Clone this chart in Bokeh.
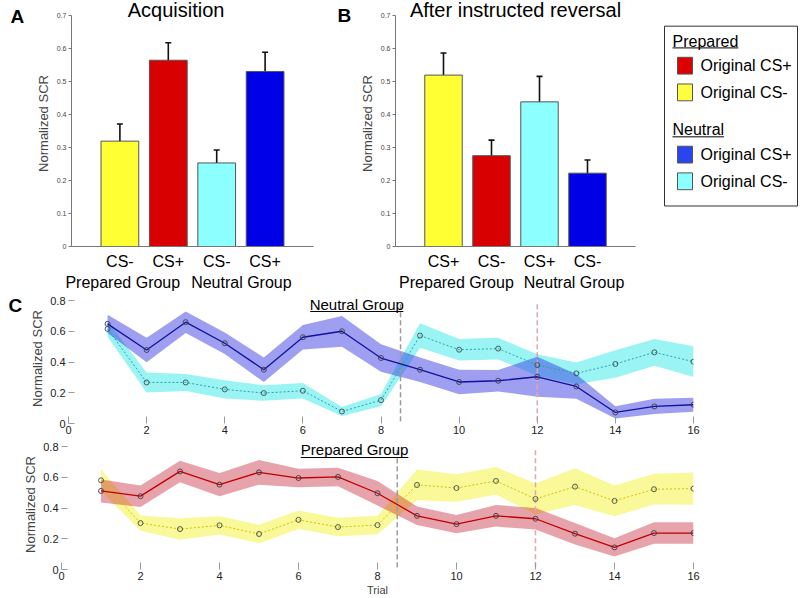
import numpy as np
from bokeh.plotting import figure
from bokeh.models import (Range1d, ColumnDataSource, Whisker, Label, LinearAxis,
                          FixedTicker, TeeHead)
from bokeh.layouts import column, row
from bokeh.embed import file_html
from bokeh.resources import INLINE
from bokeh.core.properties import value

FONT = "Liberation Sans"

# ---------------- data ----------------
bar_groups = ["Prepared Group", "Neutral Group"]

acq_stim = ["CS-", "CS+", "CS-", "CS+"]
acq_mean = [0.319, 0.564, 0.253, 0.530]
acq_lower = [0.270, 0.511, 0.214, 0.474]
acq_upper = [0.371, 0.617, 0.292, 0.588]
acq_colors = ["#ffff33", "#d80000", "#8cffff", "#0000e6"]

rev_stim = ["CS+", "CS-", "CS+", "CS-"]
rev_mean = [0.519, 0.275, 0.438, 0.222]
rev_lower = [0.456, 0.227, 0.361, 0.179]
rev_upper = [0.586, 0.322, 0.515, 0.262]
rev_colors = ["#ffff33", "#d80000", "#8cffff", "#0000e6"]

trials = list(range(1, 17))
neutral_csp_mean = [0.648, 0.478, 0.659, 0.522, 0.350, 0.561, 0.600, 0.426,
                    0.350, 0.270, 0.278, 0.304, 0.241, 0.072, 0.111, 0.122]
neutral_csp_sem = [0.06, 0.08, 0.07, 0.07, 0.08, 0.08, 0.10, 0.09,
                   0.08, 0.08, 0.07, 0.13, 0.08, 0.04, 0.05, 0.045]
neutral_csm_mean = [0.615, 0.267, 0.267, 0.222, 0.198, 0.213, 0.078, 0.152,
                    0.572, 0.480, 0.487, 0.380, 0.326, 0.387, 0.463, 0.402]
neutral_csm_sem = [0.05, 0.065, 0.055, 0.06, 0.05, 0.05, 0.03, 0.04,
                   0.08, 0.07, 0.07, 0.07, 0.07, 0.09, 0.087, 0.10]
prepared_csp_mean = [0.511, 0.477, 0.638, 0.552, 0.632, 0.595, 0.602, 0.496,
                     0.349, 0.295, 0.349, 0.330, 0.233, 0.144, 0.237, 0.237]
prepared_csp_sem = [0.075, 0.07, 0.07, 0.075, 0.08, 0.06, 0.06, 0.08,
                    0.06, 0.06, 0.07, 0.07, 0.07, 0.06, 0.07, 0.07]
prepared_csm_mean = [0.580, 0.302, 0.263, 0.287, 0.231, 0.323, 0.276, 0.289,
                     0.550, 0.530, 0.576, 0.459, 0.539, 0.446, 0.522, 0.526]
prepared_csm_sem = [0.07, 0.05, 0.07, 0.06, 0.06, 0.06, 0.06, 0.06,
                    0.10, 0.09, 0.09, 0.10, 0.12, 0.10, 0.10, 0.105]

reversal_trials = [8.5, 12]

legend_sections = ["Prepared", "Neutral"]
legend_labels = [["Original CS+", "Original CS-"], ["Original CS+", "Original CS-"]]
legend_colors = [["#dc0000", "#ffff40"], ["#2a44f0", "#8cffff"]]

bar_y_ticks = [0, 0.1, 0.2, 0.3, 0.4, 0.5, 0.6, 0.7]
trial_y_ticks = [0, 0.2, 0.4, 0.6, 0.8]
trial_x_ticks = [0, 2, 4, 6, 8, 10, 12, 14, 16]

# ---------------- helpers ----------------
HELV = {" ": 278, "N": 722, "e": 556, "u": 556, "t": 278, "r": 333, "a": 556,
        "l": 222, "G": 778, "o": 556, "p": 556, "P": 667, "d": 556}


def text_width(s, size):
    return sum(HELV.get(c, 556) for c in s) / 1000.0 * size


def style_common(p):
    p.xgrid.visible = False
    p.ygrid.visible = False
    p.outline_line_color = None
    p.background_fill_color = "white"
    p.border_fill_color = "white"


def letter_strip(letter, width, height, bottom, x, y_mid):
    fh = height - bottom
    s = figure(width=width, height=height, x_range=Range1d(0, width),
               y_range=Range1d(fh, 0), output_backend="svg", toolbar_location=None,
               min_border_left=0, min_border_right=0, min_border_top=0,
               min_border_bottom=bottom)
    style_common(s)
    s.axis.visible = False
    s.text(x=[x], y=[y_mid], text=[letter], text_font=value(FONT), text_font_size="19px",
           text_font_style="bold", text_baseline="middle", text_align="left",
           text_color="black")
    return s


# ---------------- top row ----------------
TOP_H = 293
BAR_FRAME_BOTTOM = 249      # px from canvas top where y = 0
BAR_BOTTOM = TOP_H - BAR_FRAME_BOTTOM
BAR_Y07 = 15                # px from canvas top where y = 0.7
BAR_PX = 0.7 / (BAR_FRAME_BOTTOM - BAR_Y07)
BAR_YTOP = 0.7 + BAR_Y07 * BAR_PX


def bar_panel(title, title_x, stim, mean, lower, upper, colors, group_pos,
              width, left, right):
    xs = list(np.arange(1, len(stim) + 1))
    src = ColumnDataSource(dict(x=xs, top=mean, lower=lower, upper=upper, color=colors))
    p = figure(x_range=Range1d(0, len(stim) + 1), y_range=Range1d(0, BAR_YTOP),
               width=width, height=TOP_H, output_backend="svg", toolbar_location=None,
               min_border_left=left, min_border_right=right,
               min_border_top=0, min_border_bottom=BAR_BOTTOM)
    style_common(p)
    p.vbar(x="x", top="top", width=0.78, fill_color="color", line_color="#555555",
           line_width=1, source=src)
    w = Whisker(source=src, base="x", upper="upper", lower="lower",
                line_color="#111111", line_width=1.6,
                upper_head=TeeHead(size=6, line_color="#111111", line_width=1.6),
                lower_head=TeeHead(size=6, line_color="#111111", line_width=1.6))
    p.add_layout(w)

    xa = p.xaxis[0]
    xa.ticker = FixedTicker(ticks=xs)
    xa.major_label_overrides = {int(k): s for k, s in zip(xs, stim)}
    xa.axis_label = None
    xa.axis_label_standoff = 0
    xa.axis_line_color = "#777777"
    xa.major_tick_line_color = None
    xa.minor_tick_line_color = None
    xa.major_tick_in = 0
    xa.major_tick_out = 0
    xa.major_label_text_font = FONT
    xa.major_label_text_font_size = "16px"
    xa.major_label_text_color = "black"
    xa.major_label_standoff = 6

    ga = LinearAxis(ticker=FixedTicker(ticks=group_pos),
                    major_label_overrides={g: n for g, n in zip(group_pos, bar_groups)})
    ga.axis_label = None
    ga.axis_label_standoff = 0
    ga.axis_line_color = None
    ga.major_tick_line_color = None
    ga.minor_tick_line_color = None
    ga.major_tick_in = 0
    ga.major_tick_out = 0
    ga.major_label_text_font = FONT
    ga.major_label_text_font_size = "16px"
    ga.major_label_text_color = "black"
    ga.major_label_standoff = 1
    p.add_layout(ga, "below")

    ya = p.yaxis[0]
    ya.ticker = FixedTicker(ticks=bar_y_ticks)
    ya.bounds = (0, 0.7)
    ya.major_label_overrides = {0: "0"}
    ya.axis_line_color = "#777777"
    ya.major_tick_line_color = "#777777"
    ya.major_tick_in = 0
    ya.major_tick_out = 3
    ya.minor_tick_line_color = None
    ya.major_label_text_font = FONT
    ya.major_label_text_font_size = "7px"
    ya.major_label_text_color = "#444444"
    ya.major_label_standoff = 2
    ya.axis_label = "Normalized SCR"
    ya.axis_label_text_font = FONT
    ya.axis_label_text_font_size = "13px"
    ya.axis_label_text_font_style = "normal"
    ya.axis_label_standoff = 3

    p.add_layout(Label(x=title_x, y=0.7 + 5.5 * BAR_PX, text=title, text_align="center",
                       text_baseline="middle", text_font=FONT,
                       text_font_size="20px", text_color="black"))
    return p


sA = letter_strip("A", 32, TOP_H, BAR_BOTTOM, 10, 16)
pA = bar_panel("Acquisition", 2.16, acq_stim, acq_mean, acq_lower, acq_upper,
               acq_colors, [1.06, 3.51], 298, 36, 17)
sB = letter_strip("B", 26, TOP_H, BAR_BOTTOM, 7, 15)
pB = bar_panel("After instructed reversal", 2.5, rev_stim, rev_mean, rev_lower,
               rev_upper, rev_colors, [1.27, 3.72], 299, 34, 20)

# ---------------- legend panel ----------------
LEG_FIG_W = 145
LEG_FRAME_H = TOP_H - BAR_BOTTOM
BOX_L, BOX_R, BOX_T, BOX_B = 9, 142, 26, 208
pL = figure(width=LEG_FIG_W, height=TOP_H, x_range=Range1d(0, LEG_FIG_W),
            y_range=Range1d(LEG_FRAME_H, 0), output_backend="svg", toolbar_location=None,
            min_border_left=0, min_border_right=0, min_border_top=0,
            min_border_bottom=BAR_BOTTOM)
style_common(pL)
pL.axis.visible = False
pL.quad(left=[BOX_L], right=[BOX_R], top=[BOX_T], bottom=[BOX_B], fill_color=None,
        line_color="#333333", line_width=1)

hdr_x, hdr_y, hdr_text = [], [], []
sw_x, sw_y, sw_c, it_x, it_text = [], [], [], [], []
ul_x0, ul_x1, ul_y = [], [], []
yy = BOX_T + 15
for sec, labs, cols in zip(legend_sections, legend_labels, legend_colors):
    hdr_x.append(BOX_L + 8); hdr_y.append(yy); hdr_text.append(sec)
    ul_x0.append(BOX_L + 8); ul_x1.append(BOX_L + 8 + text_width(sec, 16))
    ul_y.append(yy + 7)
    yy += 25
    for k, (lab, col) in enumerate(zip(labs, cols)):
        sw_x.append(BOX_L + 20.5); sw_y.append(yy); sw_c.append(col)
        it_x.append(BOX_L + 36); it_text.append(lab)
        if k < len(labs) - 1:
            yy += 27
    yy += 38

pL.text(x=hdr_x, y=hdr_y, text=hdr_text, text_font=value(FONT), text_font_size="16px",
        text_baseline="middle", text_align="left", text_color="black")
pL.segment(x0=ul_x0, y0=ul_y, x1=ul_x1, y1=ul_y, line_color="black", line_width=1)
pL.rect(x=sw_x, y=sw_y, width=15, height=17, fill_color=sw_c, line_color="#555555",
        line_width=1)
pL.text(x=it_x, y=sw_y, text=it_text, text_font=value(FONT), text_font_size="16px",
        text_baseline="middle", text_align="left", text_color="black")

# ---------------- trial panels ----------------
C_FRAME_W = 632
C_PX = 0.8 / 123.0


def trial_panel(width, height, left, top_px, bottom, title, title_x, plus_mean, plus_sem,
                minus_mean, minus_sem, plus_line, plus_band, minus_line, minus_band,
                title_dy, xlabel=None):
    ytop = 0.8 + top_px * C_PX
    p = figure(x_range=Range1d(0, 16), y_range=Range1d(0, ytop), width=width,
               height=height, output_backend="svg", toolbar_location=None,
               min_border_left=left, min_border_right=width - left - C_FRAME_W,
               min_border_top=0, min_border_bottom=bottom)
    style_common(p)
    pm, ps = np.array(plus_mean), np.array(plus_sem)
    mm, ms = np.array(minus_mean), np.array(minus_sem)
    p.varea(x=trials, y1=mm - ms, y2=mm + ms, fill_color=minus_band[0],
            fill_alpha=minus_band[1])
    p.varea(x=trials, y1=pm - ps, y2=pm + ps, fill_color=plus_band[0],
            fill_alpha=plus_band[1])
    p.segment(x0=reversal_trials, y0=[0.015] * 2, x1=reversal_trials, y1=[0.787] * 2,
              line_color=["#9a9a9a", "#eca0ac"], line_dash="5 3", line_width=1.5)
    p.line(trials, minus_mean, line_color=minus_line, line_width=1, line_dash="2 2")
    p.scatter(trials, minus_mean, marker="circle", size=5, fill_color=None,
              line_color="#3c4a4a", line_width=0.9)
    p.line(trials, plus_mean, line_color=plus_line, line_width=1.3)
    p.scatter(trials, plus_mean, marker="circle", size=5, fill_color=None,
              line_color="#3a3a4a", line_width=0.9)

    xa = p.xaxis[0]
    xa.ticker = FixedTicker(ticks=trial_x_ticks)
    xa.axis_line_color = None
    xa.major_tick_line_color = "#9a9a9a"
    xa.major_tick_in = 7
    xa.major_tick_out = 0
    xa.minor_tick_line_color = None
    xa.major_label_text_font = FONT
    xa.major_label_text_font_size = "11px"
    xa.major_label_text_color = "#222222"
    xa.major_label_standoff = 2
    if xlabel:
        xa.axis_label = xlabel
        xa.axis_label_text_font = FONT
        xa.axis_label_text_font_size = "11px"
        xa.axis_label_text_font_style = "normal"
        xa.axis_label_standoff = 1
    else:
        xa.axis_label = None
        xa.axis_label_standoff = 0

    ya = p.yaxis[0]
    ya.ticker = FixedTicker(ticks=trial_y_ticks)
    ya.bounds = (0, 0.8)
    ya.major_label_overrides = {0: "0"}
    ya.axis_line_color = None
    ya.major_tick_line_color = "#9a9a9a"
    ya.major_tick_in = 6
    ya.major_tick_out = 0
    ya.minor_tick_line_color = None
    ya.major_label_text_font = FONT
    ya.major_label_text_font_size = "11px"
    ya.major_label_text_color = "#222222"
    ya.major_label_standoff = 3
    ya.axis_label = "Normalized SCR"
    ya.axis_label_text_font = FONT
    ya.axis_label_text_font_size = "13px"
    ya.axis_label_text_font_style = "normal"
    ya.axis_label_standoff = 2

    half = text_width(title, 15) / 2 / (C_FRAME_W / 16.0)
    p.add_layout(Label(x=title_x, y=0.8 - title_dy * C_PX, text=title,
                       text_align="center", text_baseline="middle", text_font=FONT,
                       text_font_size="15px", text_color="black"))
    p.segment(x0=[title_x - half], y0=[0.8 - 11 * C_PX], x1=[title_x + half],
              y1=[0.8 - 11 * C_PX], line_color="black", line_width=1)
    return p


C1_H, C1_BOTTOM = 146, 16
sC = letter_strip("C", 27, C1_H, C1_BOTTOM, 8, 12)
pC1 = trial_panel(773, C1_H, 34, 7, C1_BOTTOM, "Neutral Group", 7.38,
                  neutral_csp_mean, neutral_csp_sem, neutral_csm_mean, neutral_csm_sem,
                  "#11119a", ("#2a2ae0", 0.45), "#2aa0b0", ("#22e6e6", 0.45), 3.5)
pC2 = trial_panel(800, 159, 61, 7, 29, "Prepared Group", 7.42,
                  prepared_csp_mean, prepared_csp_sem, prepared_csm_mean, prepared_csm_sem,
                  "#c00000", ("#c4182c", 0.4), "#cfc000", ("#f0f000", 0.4), 3,
                  xlabel="Trial")

layout = column(row(sA, pA, sB, pB, pL), row(sC, pC1), pC2)
open("out.html", "w").write(file_html(layout, INLINE))
